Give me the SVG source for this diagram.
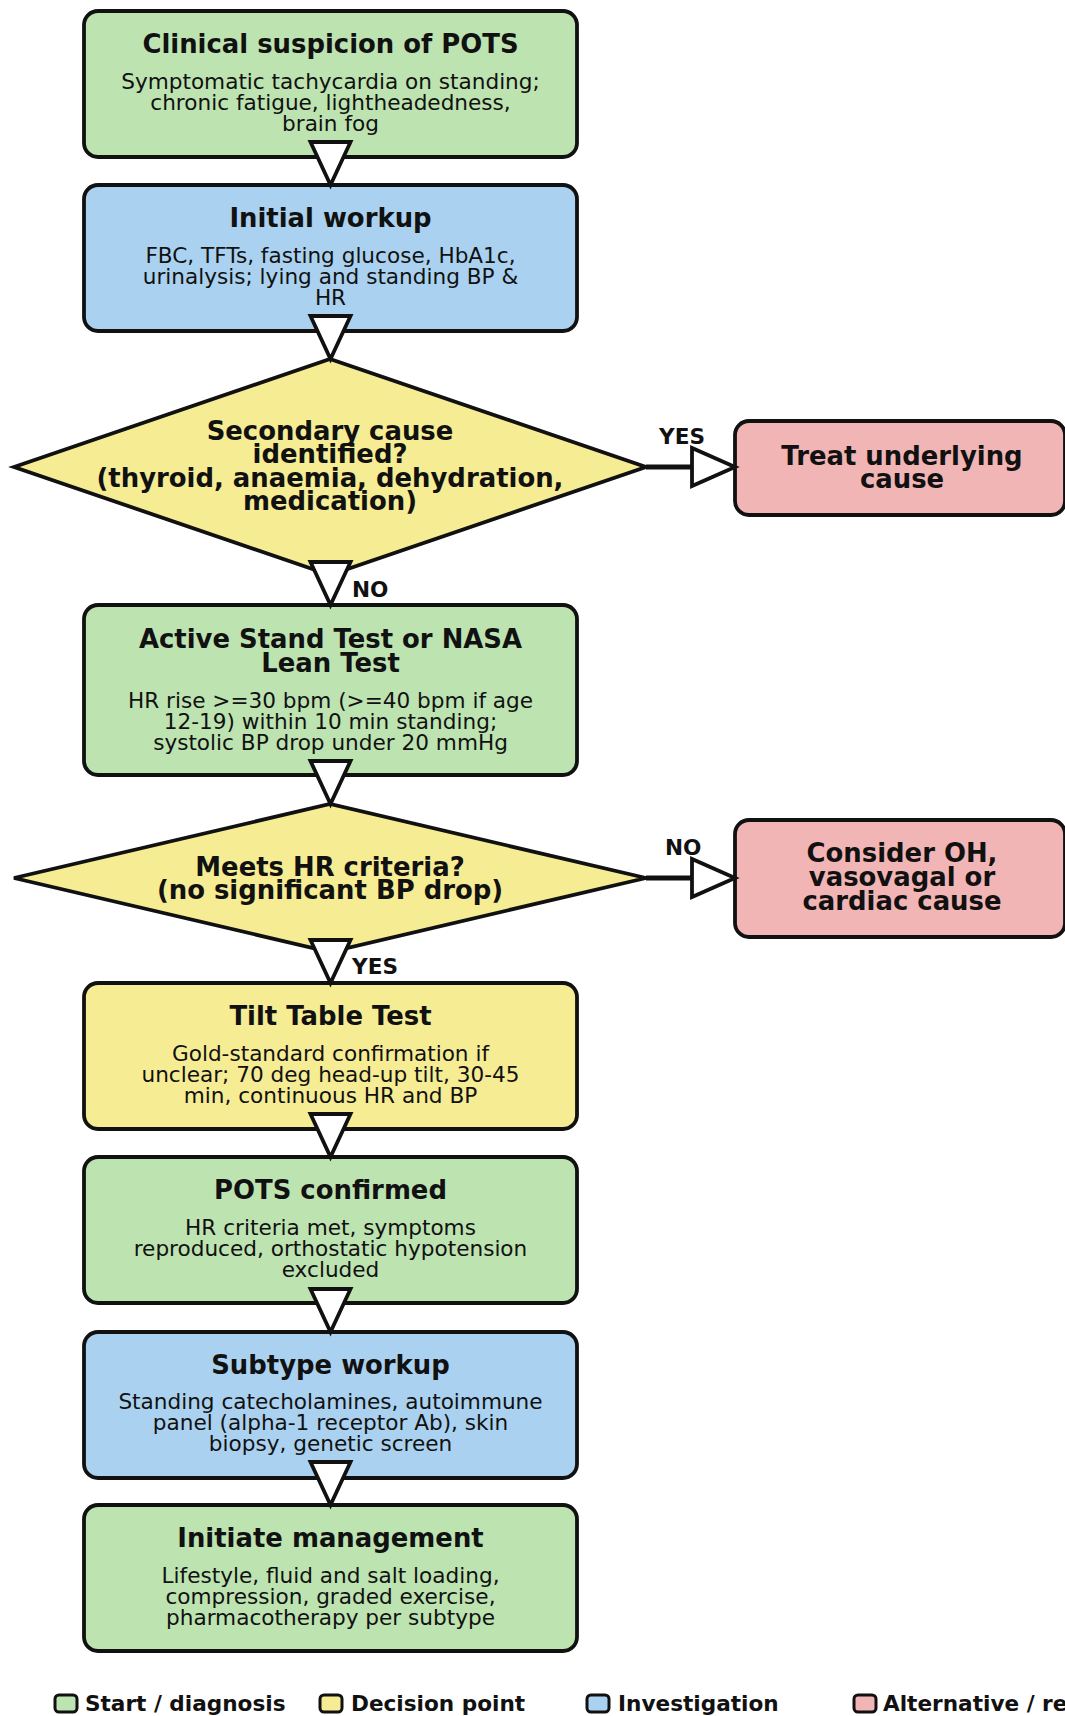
<svg xmlns="http://www.w3.org/2000/svg" width="1065" height="1716" viewBox="0 0 1065 1716">
<style>
.box{stroke:#111;stroke-width:3.8}
.g{fill:#bde3b1}
.b{fill:#aad2f0}
.y{fill:#f5ec94}
.p{fill:#f2b5b5}
text{font-family:"DejaVu Sans","Liberation Sans",sans-serif;fill:#111;text-anchor:middle}
.t{font-size:25.9px;font-weight:bold}
.s{font-size:21.6px}
.l{font-size:21.6px;font-weight:bold;text-anchor:start}
.head{fill:#fff;stroke:#111;stroke-width:3.8;stroke-linejoin:miter}
.shaft{stroke:#111;stroke-width:4.8;fill:none}
.lg{stroke:#111;stroke-width:3}
</style>
<rect width="1065" height="1716" fill="#fff"/>
<g id="n1">
<rect class="box g" x="84" y="11" width="493" height="146" rx="14"/>
<text class="t" x="330.5" y="53">Clinical suspicion of POTS</text>
<text class="s" x="330.5" y="89">Symptomatic tachycardia on standing;</text>
<text class="s" x="330.5" y="110">chronic fatigue, lightheadedness,</text>
<text class="s" x="330.5" y="131">brain fog</text>
</g>
<g id="n2">
<rect class="box b" x="84" y="185" width="493" height="146" rx="14"/>
<text class="t" x="330.5" y="227">Initial workup</text>
<text class="s" x="330.5" y="263">FBC, TFTs, fasting glucose, HbA1c,</text>
<text class="s" x="330.5" y="284">urinalysis; lying and standing BP &amp;</text>
<text class="s" x="330.5" y="305">HR</text>
</g>
<g id="d1">
<polygon class="box y" points="14,467 330,359 646,467 330,575"/>
<text class="t" x="330" y="439.5">Secondary cause</text>
<text class="t" x="330" y="463">identified?</text>
<text class="t" x="330" y="486.5">(thyroid, anaemia, dehydration,</text>
<text class="t" x="330" y="510">medication)</text>
</g>
<g id="r1">
<rect class="box p" x="735" y="421" width="330" height="94" rx="14"/>
<text class="t" x="902" y="464.5">Treat underlying</text>
<text class="t" x="902" y="487.5">cause</text>
</g>
<g id="n3">
<rect class="box g" x="84" y="605" width="493" height="170" rx="14"/>
<text class="t" x="330.5" y="648">Active Stand Test or NASA</text>
<text class="t" x="330.5" y="672">Lean Test</text>
<text class="s" x="330.5" y="707.5">HR rise &gt;=30 bpm (&gt;=40 bpm if age</text>
<text class="s" x="330.5" y="728.5">12-19) within 10 min standing;</text>
<text class="s" x="330.5" y="749.5">systolic BP drop under 20 mmHg</text>
</g>
<g id="d2">
<polygon class="box y" points="14,878 330,804 646,878 330,952"/>
<text class="t" x="330" y="875.5">Meets HR criteria?</text>
<text class="t" x="330" y="899">(no significant BP drop)</text>
</g>
<g id="r2">
<rect class="box p" x="735" y="820" width="330" height="117" rx="14"/>
<text class="t" x="902" y="862">Consider OH,</text>
<text class="t" x="902" y="886">vasovagal or</text>
<text class="t" x="902" y="910">cardiac cause</text>
</g>
<g id="n4">
<rect class="box y" x="84" y="983" width="493" height="146" rx="14"/>
<text class="t" x="330.5" y="1025">Tilt Table Test</text>
<text class="s" x="330.5" y="1061">Gold-standard confirmation if</text>
<text class="s" x="330.5" y="1082">unclear; 70 deg head-up tilt, 30-45</text>
<text class="s" x="330.5" y="1103">min, continuous HR and BP</text>
</g>
<g id="n5">
<rect class="box g" x="84" y="1157" width="493" height="146" rx="14"/>
<text class="t" x="330.5" y="1199">POTS confirmed</text>
<text class="s" x="330.5" y="1234.5">HR criteria met, symptoms</text>
<text class="s" x="330.5" y="1255.5">reproduced, orthostatic hypotension</text>
<text class="s" x="330.5" y="1276.5">excluded</text>
</g>
<g id="n6">
<rect class="box b" x="84" y="1332" width="493" height="146" rx="14"/>
<text class="t" x="330.5" y="1374">Subtype workup</text>
<text class="s" x="330.5" y="1409">Standing catecholamines, autoimmune</text>
<text class="s" x="330.5" y="1430">panel (alpha-1 receptor Ab), skin</text>
<text class="s" x="330.5" y="1451">biopsy, genetic screen</text>
</g>
<g id="n7">
<rect class="box g" x="84" y="1505" width="493" height="146" rx="14"/>
<text class="t" x="330.5" y="1547">Initiate management</text>
<text class="s" x="330.5" y="1583">Lifestyle, fluid and salt loading,</text>
<text class="s" x="330.5" y="1604">compression, graded exercise,</text>
<text class="s" x="330.5" y="1625">pharmacotherapy per subtype</text>
</g>
<g id="connectors">
<polygon class="head" points="310.5,142 350.5,142 330.5,185"/>
<polygon class="head" points="310.5,316 350.5,316 330.5,359"/>
<polygon class="head" points="310.5,562 350.5,562 330.5,605"/>
<polygon class="head" points="310.5,761 350.5,761 330.5,804"/>
<polygon class="head" points="310.5,940 350.5,940 330.5,983"/>
<polygon class="head" points="310.5,1114 350.5,1114 330.5,1157"/>
<polygon class="head" points="310.5,1289 350.5,1289 330.5,1332"/>
<polygon class="head" points="310.5,1462 350.5,1462 330.5,1505"/>
<line class="shaft" x1="646" y1="467" x2="692" y2="467"/>
<polygon class="head" points="692,448 692,486 735,467"/>
<line class="shaft" x1="646" y1="878" x2="692" y2="878"/>
<polygon class="head" points="692,859 692,897 735,878"/>
<text class="l" x="659" y="444">YES</text>
<text class="l" x="352" y="597">NO</text>
<text class="l" x="665" y="855">NO</text>
<text class="l" x="352" y="974">YES</text>
</g>
<g id="legend">
<rect class="g lg" x="55" y="1695" width="22" height="17" rx="4"/>
<text class="l" x="85" y="1711">Start / diagnosis</text>
<rect class="y lg" x="320" y="1695" width="22" height="17" rx="4"/>
<text class="l" x="351" y="1711">Decision point</text>
<rect class="b lg" x="587" y="1695" width="22" height="17" rx="4"/>
<text class="l" x="618" y="1711">Investigation</text>
<rect class="p lg" x="854" y="1695" width="22" height="17" rx="4"/>
<text class="l" x="883" y="1711">Alternative / re</text>
</g>
</svg>
